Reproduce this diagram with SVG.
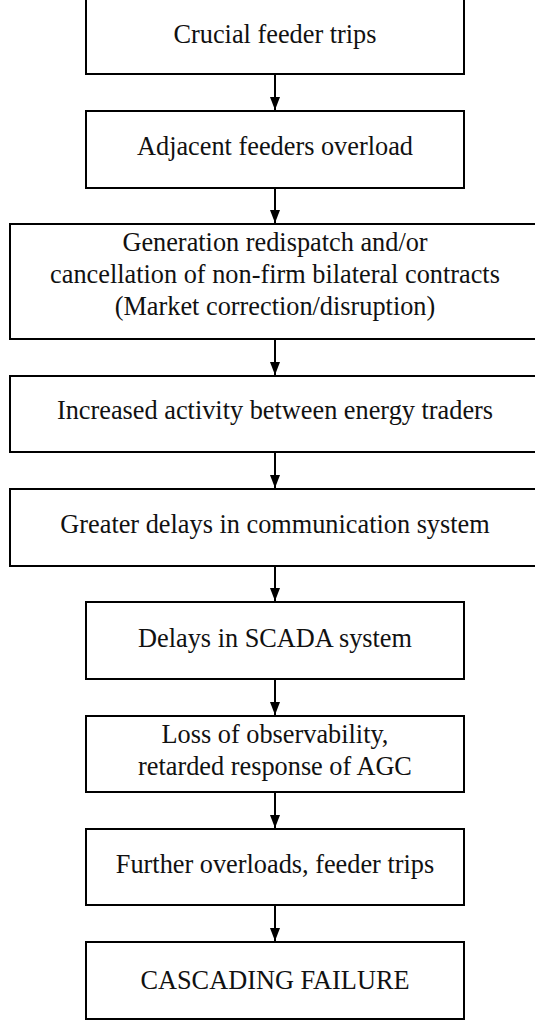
<svg xmlns="http://www.w3.org/2000/svg" width="535" height="1022" viewBox="0 0 535 1022">
<style>
.box{fill:#fff;stroke:#000;stroke-width:2}
.t{font-family:"Liberation Serif","Times New Roman",serif;font-size:26.3px;fill:#111;text-anchor:middle}
.c{stroke:#000;stroke-width:2;fill:none}
</style>
<defs>
<marker id="ah" markerWidth="13" markerHeight="10" refX="13" refY="5" orient="auto" markerUnits="userSpaceOnUse" viewBox="0 0 13 10">
<path d="M0,0 L13,5 L0,10 Z" fill="#000"/>
</marker>
</defs>
<g id="n1"><rect class="box" x="86" y="-3" width="378" height="77"/><text class="t" x="275" y="43">Crucial feeder trips</text></g>
<g id="n2"><rect class="box" x="86" y="111" width="378" height="77"/><text class="t" x="275" y="155">Adjacent feeders overload</text></g>
<g id="n3"><rect class="box" x="10" y="224" width="530" height="115"/><text class="t" x="275" y="251">Generation redispatch and/or</text><text class="t" x="275" y="283">cancellation of non-firm bilateral contracts</text><text class="t" x="275" y="315">(Market correction/disruption)</text></g>
<g id="n4"><rect class="box" x="10" y="376" width="530" height="76"/><text class="t" x="275" y="419">Increased activity between energy traders</text></g>
<g id="n5"><rect class="box" x="10" y="489" width="530" height="77"/><text class="t" x="275" y="533">Greater delays in communication system</text></g>
<g id="n6"><rect class="box" x="86" y="602" width="378" height="77"/><text class="t" x="275" y="647">Delays in SCADA system</text></g>
<g id="n7"><rect class="box" x="86" y="716" width="378" height="76"/><text class="t" x="275" y="743">Loss of observability,</text><text class="t" x="275" y="775">retarded response of AGC</text></g>
<g id="n8"><rect class="box" x="86" y="829" width="378" height="76"/><text class="t" x="275" y="873">Further overloads, feeder trips</text></g>
<g id="n9"><rect class="box" x="86" y="942" width="378" height="77"/><text class="t" x="275" y="989">CASCADING FAILURE</text></g>
<g id="connectors">
<line class="c" x1="275" y1="74" x2="275" y2="110" marker-end="url(#ah)"/>
<line class="c" x1="275" y1="188" x2="275" y2="223" marker-end="url(#ah)"/>
<line class="c" x1="275" y1="339" x2="275" y2="375" marker-end="url(#ah)"/>
<line class="c" x1="275" y1="452" x2="275" y2="488" marker-end="url(#ah)"/>
<line class="c" x1="275" y1="566" x2="275" y2="601" marker-end="url(#ah)"/>
<line class="c" x1="275" y1="679" x2="275" y2="715" marker-end="url(#ah)"/>
<line class="c" x1="275" y1="792" x2="275" y2="828" marker-end="url(#ah)"/>
<line class="c" x1="275" y1="905" x2="275" y2="941" marker-end="url(#ah)"/>
</g>
</svg>
